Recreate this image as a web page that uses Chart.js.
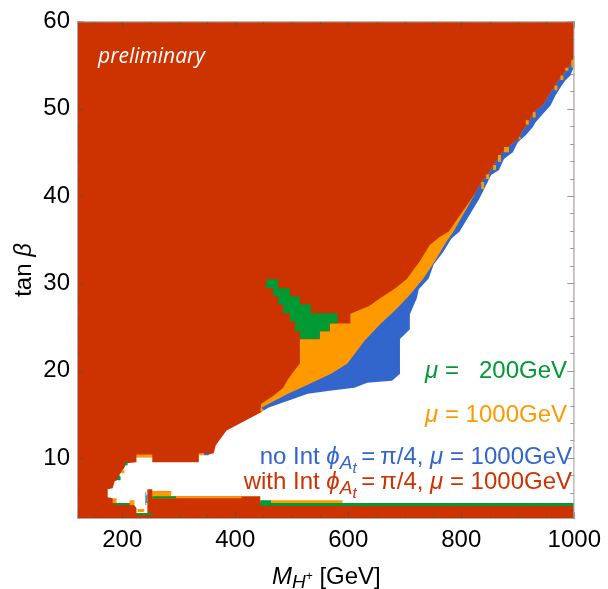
<!DOCTYPE html>
<html>
<head>
<meta charset="utf-8">
<script src="https://cdn.jsdelivr.net/npm/chart.js@4.4.0/dist/chart.umd.min.js"></script>
<style>
html, body { margin: 0; padding: 0; background: #fff; }
canvas { display: block; }
</style>
</head>
<body>
<canvas id="c" width="608" height="589"></canvas>
<script>
// axes
var xRange = [120, 1000];
var yRange = [3, 60];
var xTicks = [200, 400, 600, 800, 1000];
var yTicks = [10, 20, 30, 40, 50, 60];

// region boundaries, (M_H+ [GeV], tan beta)
var plotBox = [[120, 3], [120, 60], [1000, 60], [1000, 3]];
var redEdgeTop = [[1000,56.1],[996.5,55.5],[987.7,54.5],[975.5,53.6],[966.7,52.7],[954.4,51.5],[945.7,50.5],[928.1,49.6],[919.4,48.4],[908.9,47.5],[900.1,46.5],[879,45.4],[866.8,44.5],[856.3,43.5],[847.5,42.5],[835.2,41.6],[826.5,40.5]];
var redEdgeMid = [[777.4,35.9],[761.6,35.3],[744.1,34.4],[726.5,32.5],[716,31.6],[703.7,30.5],[682.7,29.4],[656.4,28.3],[637.1,27.4],[603.8,26.5],[603.8,25.4],[567,25.4],[567,24.5],[549.5,24.5],[549.5,23.6],[514.4,23.6]];
var orangeLeft = [[514.4,20.8],[505.7,20.1],[493.4,19.0],[484.6,18.0],[467.1,17.1],[446.1,16.2],[444.3,15.4]];
var blueTop = [[786,35.9],[773.9,34.8],[752.8,32.5],[733.6,30.6],[709,28.7],[686.2,27.1],[656.4,25.3],[628.4,23.4],[598.6,20.8],[568.8,19.6],[532,18.5],[493.4,17.35],[446.1,15.75]];
var innerClose = [[510.9,12],[1000,12]];

var whiteEdge = [[1000,54.93],[993,53.79],[984,53.22],[975.5,52.43],[966.7,51.52],[957.9,50.38],[943.9,49.35],[931.6,48.44],[926.4,47.87],[914.1,46.96],[900.1,46.16],[891.3,45.02],[875.5,44.23],[866.8,42.97],[852.8,42.4],[840.5,40.81],[831.7,39.67],
  [796.7,35.91],[782.6,35.12],[768.6,33.63],[751.1,32.15],[742.3,30.56],[724.8,29.31],[721.3,28.28],[709,26.46],[709,24.75],[691.5,23.61],[691.5,19.63],[677.5,18.83],[633.6,18.6],[610.8,18.03],[567,17.69],[528.4,17.35],[493.4,16.55],[458.3,15.75],[444.3,15.18],
  [384.7,13.13],[374.2,12.22],[365.4,11.43],[361.9,10.52],[353.1,10.4],[335.6,10.4],[335.6,9.49],[253.2,9.49],[253.2,10.06],[225.2,10.06],[225.2,9.49],[207.7,9.38],[204.1,8.92],[198.9,8.35],[195.4,8.12],[195.4,7.55],[186.6,7.33],[183.1,6.53],[174.3,6.42],[174.3,5.5],[183.1,5.39],[186.6,4.82],[218.2,4.82],[225.2,4.25],[225.2,3.68],[244.5,3.68],[244.5,6.42],[253.2,6.42],[253.2,6.19],[286.5,6.19],[286.5,5.62],[444.3,5.62],[444.3,4.82],[1000,4.82]];

var greenSpike = [[454.8,30.45],[475.9,30.45],[475.9,29.42],[496.9,29.42],[496.9,28.51],[514.4,28.51],[514.4,27.6],[533.7,27.6],[533.7,26.57],[581,26.57],[581,25.43],[567,25.43],[567,24.52],[549.5,24.52],[549.5,23.61],[514.4,23.61],[514.4,24.52],[505.7,24.52],[505.7,25.66],[496.9,25.66],[496.9,26.57],[484.6,26.57],[484.6,27.6],[475.9,27.6],[475.9,28.51],[467.1,28.51],[467.1,29.42],[454.8,29.42]];

// small patches [x0, x1, y0, y1]
var orangeSpecks = [[994.8,1000,54.7,55.6],[984,989.5,54.36,54.7],[975.5,980.7,53.3,53.8],[965,970.2,52.1,52.65],[926.4,931.6,49.0,49.58],[914.1,919.4,48.2,48.67],[901.8,905.3,46.5,46.73],[875.5,884.3,45.0,45.6],[865,870.3,43.9,44.7],[856.3,861.5,42.97,43.54],[844,849.2,41.95,42.5],[835.2,840.5,40.8,41.6]];
var orangeBits = [[225.2,253.2,10.06,10.4],[335.6,345,10.29,10.52],[198.9,204.1,8.24,8.58],[183.1,190.1,4.82,5.39],[212.9,221.7,4.59,5.16],[227,239,3.8,4.14],[253.2,286.5,5.39,6.19],[286.5,411,5.39,5.62],[463.6,589.8,4.82,5.16]];
var greenBits = [[204.1,209.5,9.15,9.49],[191.9,197.1,7.44,7.89],[186.6,212.9,4.59,4.82],[225.2,253.2,3.45,3.68],[253.2,295.3,5.39,5.62],[444.3,463.6,4.48,5.16],[463.6,1000,4.48,4.82],[242.5,244.5,4.82,5.73]];
var blueBits = [[241,242.5,4.59,6.07],[345,353.1,10.29,10.52]];

var RED = '#cc3300', ORANGE = '#ff9900', GREEN = '#009933', BLUE = '#3366cc';
var FONT = '"Liberation Sans", Arial, sans-serif';

function rect(r) { return [[r[0], r[2]], [r[0], r[3]], [r[1], r[3]], [r[1], r[2]]]; }

var layers = [[plotBox, RED],
  [redEdgeTop.concat(redEdgeMid, orangeLeft, innerClose), ORANGE],
  [redEdgeTop.concat(blueTop, innerClose), BLUE]];
orangeSpecks.forEach(function(r) { layers.push([rect(r), ORANGE]); });
layers.push([whiteEdge, '#ffffff']);
layers.push([greenSpike, GREEN]);
orangeBits.forEach(function(r) { layers.push([rect(r), ORANGE]); });
greenBits.forEach(function(r) { layers.push([rect(r), GREEN]); });
blueBits.forEach(function(r) { layers.push([rect(r), BLUE]); });

// first dataset is painted last in chart.js, so order goes backwards
var datasets = layers.map(function(l, i) {
  return {
    data: l[0].map(function(p) { return {x: p[0], y: p[1]}; }),
    backgroundColor: l[1],
    borderWidth: 0,
    pointRadius: 0,
    fill: 'shape',
    tension: 0,
    order: layers.length - i
  };
});

function drawParts(ctx, parts, x, y, align) {
  var w = 0;
  parts.forEach(function(p) { ctx.font = p[1]; w += ctx.measureText(p[0]).width; });
  var cx = align == 'right' ? x - w : (align == 'center' ? x - w / 2 : x);
  parts.forEach(function(p) {
    ctx.font = p[1];
    ctx.fillText(p[0], cx, y + (p[2] || 0));
    cx += ctx.measureText(p[0]).width;
  });
  return x - w;
}

var decor = {
  id: 'decor',
  afterDraw: function(chart) {
    var ctx = chart.ctx, a = chart.chartArea, xs = chart.scales.x, ys = chart.scales.y;
    ctx.save();
    // ticks pointing inwards
    ctx.strokeStyle = 'rgba(80,80,80,0.6)';
    ctx.lineWidth = 1;
    ctx.beginPath();
    for (var v = 150; v <= 1000; v += 50) {
      var px = Math.round(xs.getPixelForValue(v)) + 0.5;
      var len = v % 200 == 0 ? 7 : 4;
      ctx.moveTo(px, a.bottom); ctx.lineTo(px, a.bottom - len);
      ctx.moveTo(px, a.top); ctx.lineTo(px, a.top + len);
    }
    for (var t = 4; t <= 60; t += 2) {
      var py = Math.round(ys.getPixelForValue(t)) + 0.5;
      var l2 = t % 10 == 0 ? 7 : 4;
      ctx.moveTo(a.left, py); ctx.lineTo(a.left + l2, py);
      ctx.moveTo(a.right, py); ctx.lineTo(a.right - l2, py);
    }
    ctx.stroke();
    ctx.strokeStyle = '#a8a8a8';
    ctx.strokeRect(a.left + 0.5, a.top + 0.5, a.right - a.left - 1, a.bottom - a.top - 1);

    var reg = '24px ' + FONT, ital = 'italic 24px ' + FONT;
    var sub = 'italic 19px ' + FONT, sub2 = 'italic 15px ' + FONT;

    ctx.fillStyle = '#ffffff';
    ctx.font = 'italic 21px "Open Sans", Lato, sans-serif';
    ctx.fillText('preliminary', 98, 63);

    ctx.fillStyle = ORANGE;
    var x0 = drawParts(ctx, [['\u03bc', ital], [' = 1000GeV', reg]], 567, 422, 'right');
    ctx.fillStyle = GREEN;
    drawParts(ctx, [['200GeV', reg]], 567, 378, 'right');
    drawParts(ctx, [['\u03bc', ital], [' =', reg]], x0, 378, 'left');
    var phiPart = [['\u03d5', ital], ['A', sub, 5], ['t', sub2, 9], ['\u2009=\u2009\u03c0/4, ', reg], ['\u03bc', ital], [' = 1000GeV', reg]];
    ctx.fillStyle = BLUE;
    drawParts(ctx, [['no Int ', reg]].concat(phiPart), 572, 464, 'right');
    ctx.fillStyle = RED;
    drawParts(ctx, [['with Int ', reg]].concat(phiPart), 572, 489, 'right');

    ctx.fillStyle = '#000';
    drawParts(ctx, [['M', ital], ['H', sub, 4], ['+', '12px ' + FONT, -4], [' [GeV]', reg]], 272, 584, 'left');
    ctx.translate(31, 270);
    ctx.rotate(-Math.PI / 2);
    drawParts(ctx, [['tan ', reg], ['\u03b2', ital]], 0, 0, 'center');
    ctx.restore();
  }
};

function plainLabel(v) { return String(v); }

new Chart(document.getElementById('c'), {
  type: 'line',
  data: { datasets: datasets },
  options: {
    responsive: false,
    animation: false,
    events: [],
    layout: { padding: { top: 18, right: 29, left: 0, bottom: 0 } },
    elements: { point: { radius: 0, hoverRadius: 0 } },
    plugins: { legend: { display: false }, tooltip: { enabled: false } },
    scales: {
      x: {
        type: 'linear', min: xRange[0], max: xRange[1],
        grid: { display: false, drawTicks: false },
        border: { display: false },
        ticks: { color: '#000', font: { family: FONT, size: 24 }, padding: 7, maxRotation: 0, autoSkip: false, callback: plainLabel },
        afterBuildTicks: function(s) { s.ticks = xTicks.map(function(v) { return {value: v}; }); },
        afterFit: function(s) { s.height = 70; }
      },
      y: {
        type: 'linear', min: yRange[0], max: yRange[1],
        grid: { display: false, drawTicks: false },
        border: { display: false },
        ticks: { color: '#000', font: { family: FONT, size: 24 }, padding: 7, autoSkip: false, callback: plainLabel },
        afterBuildTicks: function(s) { s.ticks = yTicks.map(function(v) { return {value: v}; }); },
        afterFit: function(s) { s.width = 77; }
      }
    }
  },
  plugins: [decor]
});
</script>
</body>
</html>
